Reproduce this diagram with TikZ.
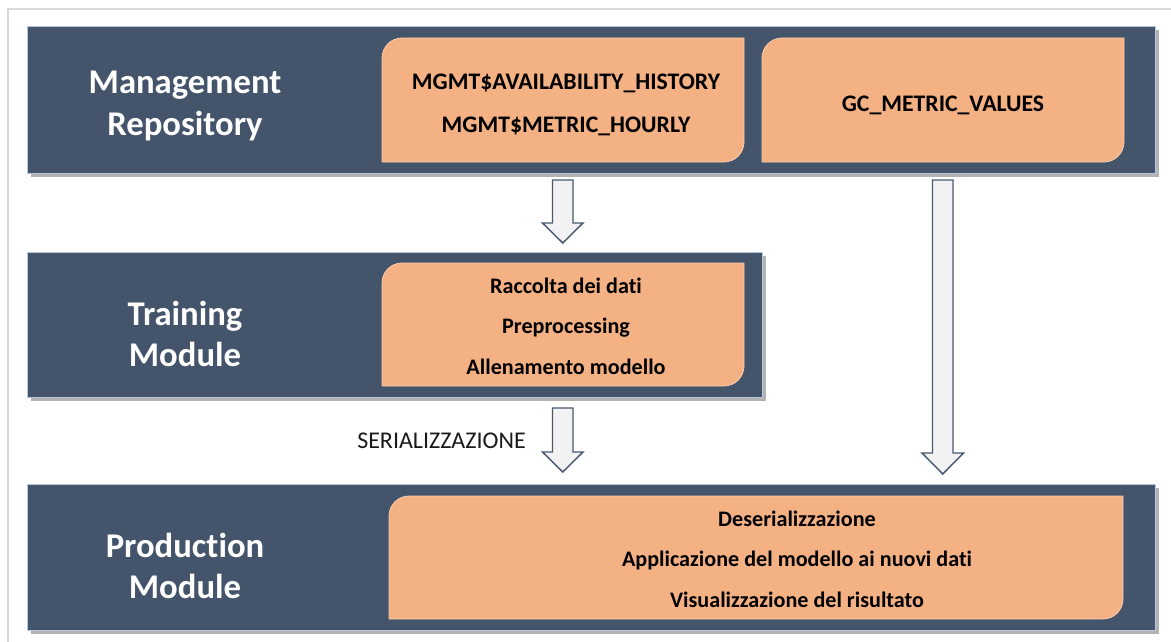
\documentclass[tikz,border=0pt]{standalone}
\usepackage{fontspec}
\setmainfont{Carlito}[Ligatures={NoCommon}]
\usetikzlibrary{shadows}
\definecolor{navy}{HTML}{44546A}
\definecolor{peach}{HTML}{F4B183}
\definecolor{peachline}{HTML}{F8CBAD}
\definecolor{boxline}{HTML}{B4C7E7}
\definecolor{arrowfill}{HTML}{F2F2F2}
\definecolor{arrowline}{HTML}{4A5872}
\definecolor{framegray}{HTML}{D9D9D9}
\newcommand{\peachshape}[4]{%
  \filldraw[peachbox] (#1,-#4) -- (#1,-#2-20) arc[start angle=180,end angle=90,radius=20] -- (#3,-#2) -- (#3,-#4+20) arc[start angle=0,end angle=-90,radius=20] -- cycle;}
\tikzset{
  navybox/.style={draw=boxline, line width=0.8pt, fill=navy, inner sep=0pt, anchor=north west,
    drop shadow={shadow xshift=2.5pt, shadow yshift=-2.5pt, fill=black, opacity=0.3}},
  peachbox/.style={draw=peachline, line width=0.6pt, fill=peach},
  headtext/.style={text=white, font=\bfseries\fontsize{26}{31}\selectfont, align=center},
  itemtext/.style={text=black, font=\bfseries\fontsize{16.6}{30.5}\selectfont, align=center},
  blockarrow/.style={draw=arrowline, line width=1.1pt, fill=arrowfill, line join=miter},
  plaintext/.style={text=black!90, font=\fontsize{18}{20}\selectfont}
}
\begin{document}
\begin{tikzpicture}[x=0.75pt,y=0.75pt]
\useasboundingbox (0,0) rectangle (1171,-642);
% outer frame
\draw[framegray, line width=1pt] (8,-642) -- (8,-9) -- (1171,-9);
% dark boxes
\node[navybox, minimum width=1128*0.75pt, minimum height=147*0.75pt] (mr) at (27,-26) {};
\node[navybox, minimum width=735*0.75pt, minimum height=145*0.75pt] (tm) at (27,-252) {};
\node[navybox, minimum width=1128*0.75pt, minimum height=146*0.75pt] (pm) at (27,-484) {};
% peach boxes
\peachshape{382}{38}{744}{162}
\peachshape{762}{38}{1124}{162}
\peachshape{382}{263}{744}{386}
\peachshape{389}{496}{1123}{619}
% headings
\node[headtext] (mrt) at (185,-106) {Management\\Repository};
\node[headtext] (tmt) at (185,-334) {Training\\Module};
\node[headtext] (pmt) at (185,-566) {Production\\Module};
% item texts
\node[itemtext, font=\bfseries\fontsize{17.8}{32}\selectfont] (o1) at (566,-105) {MGMT\$AVAILABILITY\_HISTORY\\MGMT\$METRIC\_HOURLY};
\node[itemtext, font=\bfseries\fontsize{17.8}{32}\selectfont] (o2) at (943,-105) {GC\_METRIC\_VALUES};
\node[itemtext] (o3) at (566,-326) {Raccolta dei dati\\Preprocessing\\Allenamento modello};
\node[itemtext] (o4) at (797,-559) {Deserializzazione\\Applicazione del modello ai nuovi dati\\Visualizzazione del risultato};
% arrows
\filldraw[blockarrow] (552.5,-180) -- (573,-180) -- (573,-223) -- (583,-223) -- (562.75,-243) -- (542.5,-223) -- (552.5,-223) -- cycle;
\filldraw[blockarrow] (552.5,-408) -- (573,-408) -- (573,-452) -- (583,-452) -- (562.75,-472) -- (542.5,-452) -- (552.5,-452) -- cycle;
\filldraw[blockarrow] (932.5,-180) -- (953,-180) -- (953,-453) -- (963.5,-453) -- (942.75,-474) -- (922,-453) -- (932.5,-453) -- cycle;
\node[plaintext] (ser) at (441.5,-441) {SERIALIZZAZIONE};
\end{tikzpicture}
\end{document}
